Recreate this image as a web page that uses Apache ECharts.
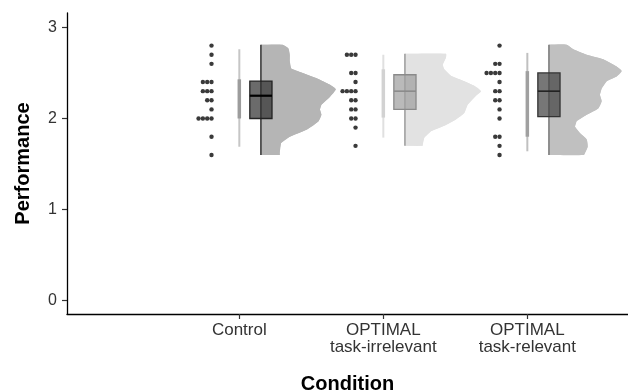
<!DOCTYPE html>
<html><head><meta charset="utf-8">
<script src="https://cdn.jsdelivr.net/npm/echarts@6/dist/echarts.min.js"></script>
<style>html,body{margin:0;padding:0;background:#fff}#c{width:628px;height:391px}</style>
</head><body><div id="c"></div>
<script>
// ---- data ----
const categories = ['Control', 'OPTIMAL\ntask-irrelevant', 'OPTIMAL\ntask-relevant'];
const xTicks = [1, 2, 3];
const yTicks = [0, 1, 2, 3];

const dotsControl    = [2.8,2.7,2.6,2.4,2.4,2.4,2.3,2.3,2.3,2.2,2.2,2.1,2.0,2.0,2.0,2.0,1.8,1.6];
const dotsIrrelevant = [2.7,2.7,2.7,2.5,2.5,2.4,2.3,2.3,2.3,2.3,2.2,2.2,2.1,2.1,2.0,2.0,1.9,1.7];
const dotsRelevant   = [2.8,2.6,2.6,2.5,2.5,2.5,2.5,2.4,2.3,2.3,2.2,2.2,2.1,2.0,1.8,1.8,1.7,1.6];

// half-violin density outline: value and half-width (x units)
const densValControl = [2.81,2.77,2.70,2.63,2.55,2.50,2.44,2.37,2.32,2.24,2.15,2.10,2.04,1.97,1.88,1.80,1.73,1.62,1.60];
const densWControl   = [0.15,0.19,0.20,0.20,0.21,0.29,0.39,0.48,0.52,0.48,0.42,0.41,0.42,0.40,0.32,0.20,0.14,0.13,0.13];
const densValIrrelevant = [2.71,2.67,2.59,2.54,2.47,2.41,2.36,2.30,2.25,2.15,2.06,1.99,1.92,1.86,1.79,1.71,1.70];
const densWIrrelevant   = [0.285,0.285,0.262,0.273,0.319,0.412,0.481,0.528,0.493,0.435,0.412,0.354,0.273,0.181,0.134,0.123,0.123];
const densValRelevant = [2.81,2.76,2.70,2.65,2.57,2.52,2.46,2.41,2.33,2.26,2.19,2.11,2.04,1.97,1.91,1.84,1.77,1.69,1.62,1.60];
const densWRelevant   = [0.123,0.169,0.262,0.377,0.470,0.505,0.470,0.401,0.366,0.354,0.366,0.342,0.262,0.192,0.181,0.215,0.262,0.269,0.250,0.243];

// boxplot (main) stats
const boxQ1  = [2.00, 2.10, 2.02];
const boxMed = [2.25, 2.30, 2.30];
const boxQ3  = [2.41, 2.48, 2.50];
// thin side box stats
const thinLow  = [1.69, 1.79, 1.64];
const thinLo   = [2.00, 2.01, 1.80];
const thinHi   = [2.43, 2.54, 2.52];
const thinHigh = [2.76, 2.70, 2.72];

// ---- styles ----
const violinFill = ['#b5b5b5', '#e2e2e2', '#c0c0c0'];
const edgeColor  = ['#333333', '#9a9a9a', '#777777'];
const boxFill    = ['rgba(50,50,50,0.72)', 'rgba(160,160,160,0.72)', 'rgba(66,66,66,0.72)'];
const boxBorder  = ['#222222', '#8a8a8a', '#333333'];
const medColor   = ['#000000', '#8a8a8a', '#222222'];
const thinWhisk  = ['#c6c6c6', '#e0e0e0', '#c0c0c0'];
const thinBox    = ['#9c9c9c', '#d2d2d2', '#a0a0a0'];

const dens = [[densValControl, densWControl], [densValIrrelevant, densWIrrelevant], [densValRelevant, densWRelevant]];
const dotsAll = [dotsControl, dotsIrrelevant, dotsRelevant];

const VOFF = 0.15, BOXHW = 0.077, DOTOFF = -0.193, DOTSTEP = 0.030;

// dot positions: stacked leftwards per value
const dotData = [];
dotsAll.forEach((arr, ci) => {
  const cnt = {};
  arr.forEach(v => {
    const k = v.toFixed(2);
    cnt[k] = (cnt[k] || 0);
    dotData.push([xTicks[ci] + DOTOFF - cnt[k] * DOTSTEP, v]);
    cnt[k]++;
  });
});

const chart = echarts.init(document.getElementById('c'), null, {renderer: 'canvas'});
const font = 'Liberation Sans, Arial, Helvetica, sans-serif';

chart.setOption({
  animation: false,
  backgroundColor: '#fff',
  grid: {left: 67, right: 0, top: 13, bottom: 77, containLabel: false, outerBoundsMode: 'none'},
  xAxis: {
    type: 'value', min: -0.1965, max: 3.699,
    axisLine: {onZero: false, lineStyle: {color: '#000', width: 1.3}},
    axisTick: {show: true, customValues: xTicks, length: 5, lineStyle: {color: '#333', width: 1.2}},
    axisLabel: {customValues: xTicks, formatter: v => categories[Math.round(v) - 1] || '',
      color: '#333', fontSize: 17, fontFamily: font, margin: 8, lineHeight: 17},
    splitLine: {show: false},
    name: 'Condition', nameLocation: 'middle', nameGap: 60,
    nameTextStyle: {fontSize: 20, fontWeight: 'bold', color: '#000', fontFamily: font}
  },
  yAxis: {
    type: 'value', min: -0.146, max: 3.158,
    axisLine: {show: true, onZero: false, lineStyle: {color: '#000', width: 1.3}},
    axisTick: {show: true, customValues: yTicks, length: 5, lineStyle: {color: '#333', width: 1.2}},
    axisLabel: {customValues: yTicks, color: '#333', fontSize: 16, fontFamily: font, margin: 10},
    splitLine: {show: false},
    name: 'Performance', nameLocation: 'middle', nameGap: 34,
    nameTextStyle: {fontSize: 20, fontWeight: 'bold', color: '#000', fontFamily: font}
  },
  series: [
    { // half violins + edge line
      type: 'custom', clip: false, z: 1,
      data: [0, 1, 2],
      renderItem: (params, api) => {
        const ci = api.value(0);
        const vals = dens[ci][0], ws = dens[ci][1];
        const x0 = xTicks[ci] + VOFF;
        const top = api.coord([x0, vals[0]]), bot = api.coord([x0, vals[vals.length - 1]]);
        const curve = vals.map((v, i) => api.coord([x0 + ws[i], v]));
        // polygon body (straight edges) plus smooth outer curve filled over it
        const pts = [top].concat(curve, [bot]);
        const curvePoly = curve.slice();
        return {type: 'group', children: [
          {type: 'polygon', shape: {points: pts}, style: {fill: violinFill[ci], stroke: null}},
          {type: 'polygon', shape: {points: [top, top].concat(curve, [bot, bot]), smooth: 0.25},
            style: {fill: violinFill[ci], stroke: null}},
          {type: 'line', shape: {x1: top[0], y1: top[1], x2: bot[0], y2: bot[1]},
            style: {stroke: edgeColor[ci], lineWidth: 1.5}}
        ]};
      }
    },
    { // thin side boxes
      type: 'custom', clip: false, z: 2,
      data: [0, 1, 2],
      renderItem: (params, api) => {
        const ci = api.value(0);
        const x = xTicks[ci];
        const a = api.coord([x, thinHigh[ci]]), b = api.coord([x, thinLow[ci]]);
        const c = api.coord([x, thinHi[ci]]), d = api.coord([x, thinLo[ci]]);
        return {type: 'group', children: [
          {type: 'line', shape: {x1: a[0], y1: a[1], x2: b[0], y2: b[1]}, style: {stroke: thinWhisk[ci], lineWidth: 2}},
          {type: 'line', shape: {x1: c[0], y1: c[1], x2: d[0], y2: d[1]}, style: {stroke: thinBox[ci], lineWidth: 3.5}}
        ]};
      }
    },
    { // main boxes
      type: 'custom', clip: false, z: 3,
      data: [0, 1, 2],
      renderItem: (params, api) => {
        const ci = api.value(0);
        const xc = xTicks[ci] + VOFF;
        const tl = api.coord([xc - BOXHW, boxQ3[ci]]), br = api.coord([xc + BOXHW, boxQ1[ci]]);
        const m1 = api.coord([xc - BOXHW, boxMed[ci]]), m2 = api.coord([xc + BOXHW, boxMed[ci]]);
        return {type: 'group', children: [
          {type: 'rect', shape: {x: tl[0], y: tl[1], width: br[0] - tl[0], height: br[1] - tl[1]},
            style: {fill: boxFill[ci], stroke: boxBorder[ci], lineWidth: 1.3}},
          {type: 'line', shape: {x1: m1[0], y1: m1[1], x2: m2[0], y2: m2[1]},
            style: {stroke: medColor[ci], lineWidth: ci === 0 ? 2.2 : 1.6}}
        ]};
      }
    },
    { // raw data dots
      type: 'scatter', z: 4,
      data: dotData, symbolSize: 4.4,
      itemStyle: {color: '#3a3a3a', opacity: 1}
    }
  ]
});
</script>
</body></html>
